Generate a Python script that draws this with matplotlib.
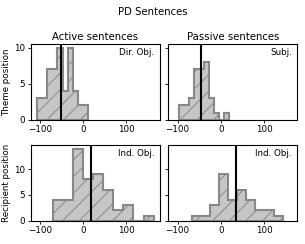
import matplotlib
matplotlib.use('Agg')
import matplotlib.pyplot as plt
import numpy as np

plt.rcParams['hatch.linewidth'] = 0.7

# histogram counts per panel (10 equal bins between lo and hi)
theme_active_counts = [3, 3, 7, 7, 10, 4, 10, 4, 2, 2]
theme_active_range = (-108, 12)
theme_active_mean = -52

theme_passive_counts = [2, 2, 3, 7, 7, 8, 3, 1, 0, 1]
theme_passive_range = (-97, 20)
theme_passive_mean = -46

recip_active_counts = [4, 4, 14, 8, 9, 6, 2, 3, 0, 1]
recip_active_range = (-71, 163)
recip_active_mean = 18

recip_passive_counts = [1, 1, 3, 9, 4, 6, 4, 2, 2, 1]
recip_passive_range = (-67, 143)
recip_passive_mean = 34

col_titles = ['Active sentences', 'Passive sentences']
row_labels = ['Theme position', 'Recipient position']
panel_tags = [['Dir. Obj.', 'Subj.'], ['Ind. Obj.', 'Ind. Obj.']]

panels = [
    [(theme_active_counts, theme_active_range, theme_active_mean),
     (theme_passive_counts, theme_passive_range, theme_passive_mean)],
    [(recip_active_counts, recip_active_range, recip_active_mean),
     (recip_passive_counts, recip_passive_range, recip_passive_mean)],
]

fig, axes = plt.subplots(2, 2, figsize=(3.05, 2.44), dpi=100,
                         sharex='all', sharey='row')
fig.subplots_adjust(left=0.101, right=0.974, top=0.820, bottom=0.0955,
                    wspace=0.068, hspace=0.332)

for i in range(2):
    for j in range(2):
        ax = axes[i, j]
        counts, (lo, hi), mean = panels[i][j]
        edges = np.linspace(lo, hi, len(counts) + 1)
        centers = (edges[:-1] + edges[1:]) / 2
        ax.hist(centers, bins=edges, weights=counts, histtype='stepfilled',
                facecolor='#c6c6c6', edgecolor='#888888', hatch='//', lw=1.5)
        ax.axvline(mean, color='black', lw=1.5)
        ax.text(0.96, 0.94, panel_tags[i][j], transform=ax.transAxes,
                ha='right', va='top', fontsize=6.3)
        ax.tick_params(labelsize=6.3, length=2.5, pad=1.5, width=0.6)
        ax.xaxis.set_tick_params(labelbottom=True)
        for s in ax.spines.values():
            s.set_linewidth(0.8)
        if i == 0:
            ax.set_title(col_titles[j], fontsize=7.3, pad=3)
        if j == 0:
            ax.set_ylabel(row_labels[i], fontsize=6.3, labelpad=2)

axes[0, 0].set_yticks([0, 5, 10])
axes[1, 0].set_yticks([0, 5, 10])
axes[0, 0].set_xticks([-100, 0, 100])

fig.suptitle('PD Sentences', fontsize=7.3, y=0.97)

plt.savefig('out.png', dpi=100)
